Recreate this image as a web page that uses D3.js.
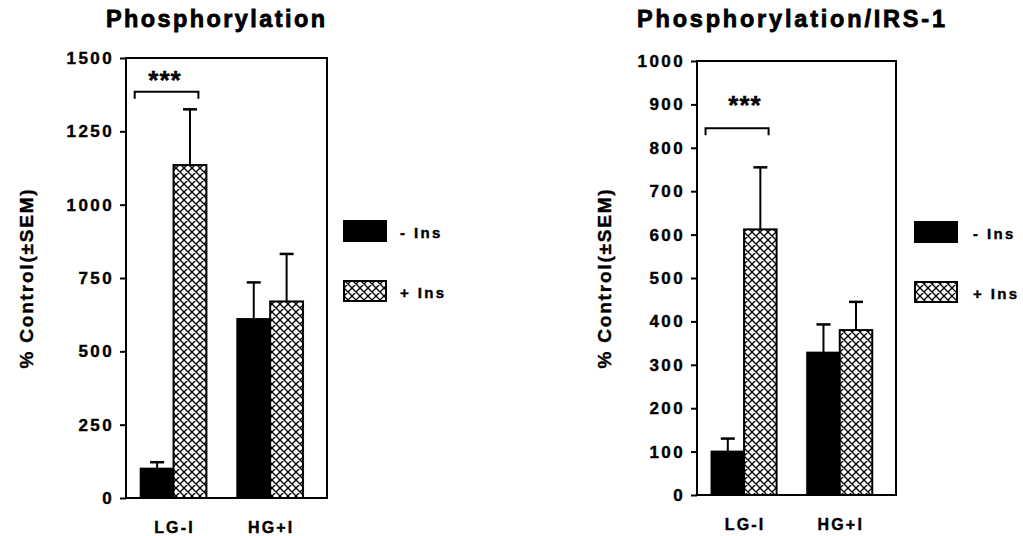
<!DOCTYPE html>
<html>
<head>
<meta charset="utf-8">
<script src="https://cdn.jsdelivr.net/npm/d3@7"></script>
<style>
  html, body { margin: 0; padding: 0; background: #fff; }
  svg { display: block; }
  text { font-family: "Liberation Sans", Arial, sans-serif; font-weight: bold; fill: #000;
         stroke: #000; stroke-width: 0.4px; }
  text.heavy { stroke-width: 0.8px; }
</style>
</head>
<body>
<svg id="chart" width="1023" height="536"></svg>
<script>
// Groups and series
const groups = ["LG-I", "HG+I"];
const seriesNames = ["- Ins", "+ Ins"];

// Panel A: total phosphorylation (% control)
const phosMinus = [100, 610];
const phosMinusErr = [22, 125];
const phosPlus = [1135, 670];
const phosPlusErr = [190, 162];
const phosTicks = [0, 250, 500, 750, 1000, 1250, 1500];

// Panel B: phosphorylation normalised to IRS-1 (% control)
const irsMinus = [100, 328];
const irsMinusErr = [30, 65];
const irsPlus = [612, 380];
const irsPlusErr = [143, 65];
const irsTicks = [0, 100, 200, 300, 400, 500, 600, 700, 800, 900, 1000];

const svg = d3.select("#chart");

// Crosshatch fill
const defs = svg.append("defs");
const pat = defs.append("pattern")
  .attr("id", "xhatch")
  .attr("patternUnits", "userSpaceOnUse")
  .attr("width", 8).attr("height", 8);
pat.append("rect").attr("width", 8).attr("height", 8).attr("fill", "#fff");
pat.append("path")
  .attr("d", "M0,0 L8,8 M8,0 L0,8 M-1,7 L1,9 M7,-1 L9,1 M-1,1 L1,-1 M7,9 L9,7")
  .attr("stroke", "#000").attr("stroke-width", 1.3);

function panel(cfg) {
  const g = svg.append("g");
  const y = d3.scaleLinear().domain([0, cfg.max]).range([cfg.bottom, cfg.top]);
  const x = d3.scaleBand().domain(groups).range([cfg.left, cfg.right])
    .paddingInner(0.32).paddingOuter(0.2).align(0.38);
  const xs = d3.scaleBand().domain(seriesNames).range([0, x.bandwidth()]);

  // Frame
  g.append("rect")
    .attr("x", cfg.left).attr("y", cfg.top)
    .attr("width", cfg.right - cfg.left).attr("height", cfg.bottom - cfg.top)
    .attr("fill", "none").attr("stroke", "#000").attr("stroke-width", 2);

  // Y axis
  const ax = g.append("g")
    .attr("transform", `translate(${cfg.left},0)`)
    .call(d3.axisLeft(y).tickValues(cfg.ticks).tickSize(6).tickPadding(6).tickFormat(d3.format("d")));
  ax.select(".domain").remove();
  ax.selectAll(".tick line").attr("stroke", "#000").attr("stroke-width", 2);
  ax.selectAll(".tick text")
    .attr("font-family", null).attr("font-size", null).attr("fill", null)
    .style("font-size", "17px").style("letter-spacing", "2.4px");

  // Bars and error bars
  const sets = [
    { name: seriesNames[0], vals: cfg.minus, errs: cfg.minusErr, fill: "#000" },
    { name: seriesNames[1], vals: cfg.plus, errs: cfg.plusErr, fill: "url(#xhatch)" }
  ];
  sets.forEach(s => {
    groups.forEach((grp, i) => {
      const bx = x(grp) + xs(s.name);
      const bw = xs.bandwidth();
      const cx = bx + bw / 2;
      g.append("line")
        .attr("x1", cx).attr("x2", cx)
        .attr("y1", y(s.vals[i])).attr("y2", y(s.vals[i] + s.errs[i]))
        .attr("stroke", "#000").attr("stroke-width", 2);
      g.append("line")
        .attr("x1", cx - 7).attr("x2", cx + 7)
        .attr("y1", y(s.vals[i] + s.errs[i])).attr("y2", y(s.vals[i] + s.errs[i]))
        .attr("stroke", "#000").attr("stroke-width", 2.5);
      g.append("rect")
        .attr("x", bx).attr("y", y(s.vals[i]))
        .attr("width", bw).attr("height", y(0) - y(s.vals[i]))
        .attr("fill", s.fill).attr("stroke", "#000").attr("stroke-width", 2);
    });
  });

  // X labels
  groups.forEach(grp => {
    g.append("text")
      .attr("x", x(grp) + x.bandwidth() / 2 + 1).attr("y", cfg.bottom + 35)
      .attr("text-anchor", "middle")
      .style("font-size", "16px").style("letter-spacing", "2.2px")
      .text(grp);
  });

  // Significance bracket over LG-I
  const bl = x(groups[0]) - 6, br = x(groups[0]) + x.bandwidth() - 8;
  const by = y(cfg.bracket);
  g.append("path")
    .attr("d", `M${bl},${by + 7} V${by} H${br} V${by + 7}`)
    .attr("fill", "none").attr("stroke", "#000").attr("stroke-width", 2);
  g.append("text")
    .attr("x", cfg.starX).attr("y", by - cfg.starGap)
    .attr("text-anchor", "middle")
    .style("font-size", "26px").style("letter-spacing", "1px")
    .text("***");

  // Title
  g.append("text")
    .attr("class", "heavy")
    .attr("x", cfg.titleX).attr("y", 27)
    .style("font-size", "23.5px").style("letter-spacing", cfg.titleLs)
    .text(cfg.title);

  // Y label
  g.append("text")
    .attr("transform", `translate(${cfg.ylabX},${(cfg.top + cfg.bottom) / 2}) rotate(-90)`)
    .attr("text-anchor", "middle")
    .style("font-size", "19px").style("letter-spacing", "1.8px")
    .text("% Control(±SEM)");

  // Legend
  sets.forEach((s, i) => {
    const ly = cfg.legY + i * 60;
    g.append("rect")
      .attr("x", cfg.legX).attr("y", ly)
      .attr("width", 42).attr("height", 20)
      .attr("fill", s.fill).attr("stroke", "#000").attr("stroke-width", 2);
    g.append("text")
      .attr("x", cfg.legX + cfg.legGap).attr("y", ly + 17)
      .style("font-size", "15px").style("letter-spacing", "2.4px")
      .text(s.name);
  });
}

panel({
  left: 126, right: 327, top: 58, bottom: 498, max: 1500,
  ticks: phosTicks,
  minus: phosMinus, minusErr: phosMinusErr, plus: phosPlus, plusErr: phosPlusErr,
  bracket: 1385, starGap: 3, starX: 165,
  title: "Phosphorylation", titleX: 106, titleLs: "2.4px", ylabX: 33,
  legX: 344, legY: 221, legGap: 56
});

panel({
  left: 697, right: 896, top: 61, bottom: 495, max: 1000,
  ticks: irsTicks,
  minus: irsMinus, minusErr: irsMinusErr, plus: irsPlus, plusErr: irsPlusErr,
  bracket: 845, starGap: 14, starX: 745,
  title: "Phosphorylation/IRS-1", titleX: 637, titleLs: "2.8px", ylabX: 611,
  legX: 915, legY: 222, legGap: 58
});
</script>
</body>
</html>
